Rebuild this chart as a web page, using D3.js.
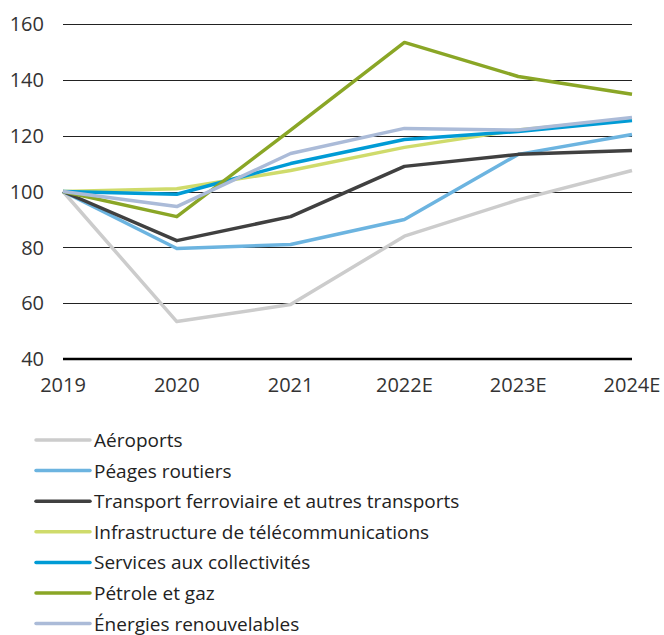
<!DOCTYPE html>
<html>
<head>
<meta charset="utf-8">
<script src="https://cdn.jsdelivr.net/npm/d3@7"></script>
<style>
  body { margin: 0; background: #fff; }
  svg { display: block; font-family: "Open Sans", "Noto Sans", sans-serif; }
</style>
</head>
<body>
<svg id="chart" width="664" height="635"></svg>
<script>
const years = ['2019', '2020', '2021', '2022E', '2023E', '2024E']
const yTicks = [40, 60, 80, 100, 120, 140, 160]

const seriesNames = [
  'Aéroports',
  'Péages routiers',
  'Transport ferroviaire et autres transports',
  'Infrastructure de télécommunications',
  'Services aux collectivités',
  'Pétrole et gaz',
  'Énergies renouvelables'
]
const seriesColors = ['#cccccc', '#6cb4e0', '#404040', '#cfdb6b', '#009bd5', '#8aa626', '#abbbd8']

const aeroports = [100, 53.4, 59.5, 84, 97, 107.5]
const peages = [100, 79.6, 81, 90, 113.3, 120.4]
const ferroviaire = [100, 82.4, 91, 109, 113.3, 114.7]
const telecom = [100, 101, 107.5, 115.8, 122, 126]
const collectivites = [100, 99, 110, 118.6, 121.5, 125.4]
const petrole = [100, 91, 122, 153.4, 141.2, 134.8]
const renouvelables = [100, 94.6, 113.6, 122.6, 122, 126.5]

const seriesValues = [aeroports, peages, ferroviaire, telecom, collectivites, petrole, renouvelables]

const svg = d3.select('#chart')
const left = 63
const right = 632

const x = d3.scalePoint().domain(years).range([left, right])
const y = d3.scaleLinear().domain([40, 160]).range([359, 24])

// gridlines
svg.append('g')
  .selectAll('line')
  .data(yTicks.filter(d => d > 40))
  .join('line')
  .attr('x1', left)
  .attr('x2', right)
  .attr('y1', d => Math.round(y(d)) + 0.5)
  .attr('y2', d => Math.round(y(d)) + 0.5)
  .attr('stroke', '#222')
  .attr('stroke-width', 1)

// y labels
svg.append('g')
  .selectAll('text')
  .data(yTicks)
  .join('text')
  .attr('x', 44)
  .attr('y', d => y(d))
  .attr('dy', '0.36em')
  .attr('text-anchor', 'end')
  .attr('font-size', 20)
  .attr('fill', '#333')
  .text(d => d)

// x labels
svg.append('g')
  .selectAll('text')
  .data(years)
  .join('text')
  .attr('x', d => x(d))
  .attr('y', 392)
  .attr('text-anchor', 'middle')
  .attr('font-size', 20)
  .attr('fill', '#333')
  .text(d => d)

const line = d3.line()
  .x((d, i) => x(years[i]))
  .y(d => y(d))

svg.append('g')
  .selectAll('path')
  .data(seriesValues)
  .join('path')
  .attr('d', d => line(d))
  .attr('fill', 'none')
  .attr('stroke', (d, i) => seriesColors[i])
  .attr('stroke-width', 3.5)
  .attr('stroke-linejoin', 'round')

// baseline
svg.append('line')
  .attr('x1', left)
  .attr('x2', right)
  .attr('y1', y(40))
  .attr('y2', y(40))
  .attr('stroke', '#000')
  .attr('stroke-width', 2.5)

// legend
const legend = svg.append('g')
  .selectAll('g')
  .data(seriesNames)
  .join('g')
  .attr('transform', (d, i) => `translate(36, ${440 + i * 30.6})`)

legend.append('line')
  .attr('x1', 0)
  .attr('x2', 54)
  .attr('stroke', (d, i) => seriesColors[i])
  .attr('stroke-width', 3.5)
  .attr('stroke-linecap', 'round')

legend.append('text')
  .attr('x', 58)
  .attr('y', 7)
  .attr('font-size', 19)
  .attr('fill', '#222')
  .text(d => d)
</script>
</body>
</html>
